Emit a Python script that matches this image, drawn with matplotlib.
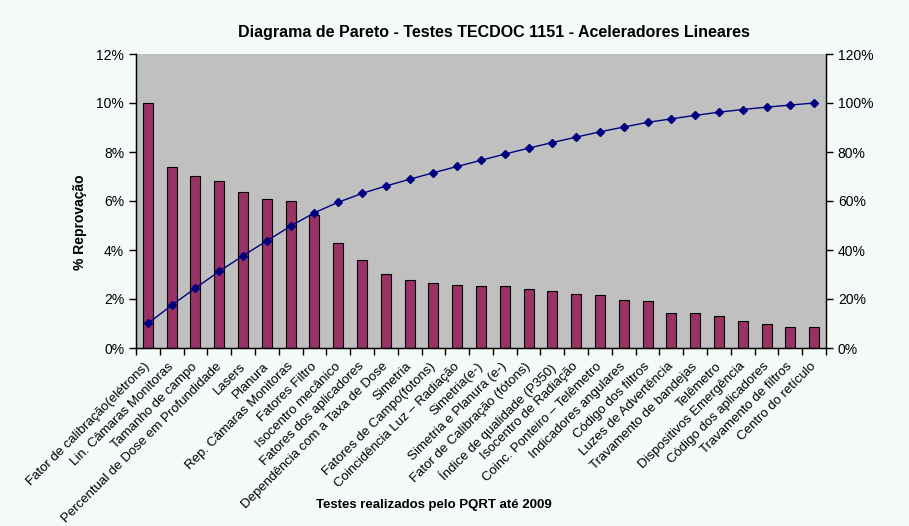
import matplotlib
matplotlib.use("Agg")
import matplotlib.pyplot as plt
import matplotlib.transforms as mtransforms
import numpy as np
from matplotlib.ticker import FuncFormatter, MultipleLocator

plt.rcParams['font.family'] = ['Liberation Sans', 'DejaVu Sans']

categories = [
    "Fator de calibração(elétrons)", "Lin. Câmaras Monitoras", "Tamanho de campo",
    "Percentual de Dose em Profundidade", "Lasers", "Planura", "Rep. Câmaras Monitoras",
    "Fatores Filtro", "Isocentro mecânico", "Fatores dos aplicadores",
    "Dependência com a Taxa de Dose", "Simetria", "Fatores de Campo(fotons)",
    "Coincidência Luz – Radiação", "Simetria(e-)", "Simetria e Planura (e-)",
    "Fator de Calibração (fótons)", "Índice de qualidade (P350)", "Isocentro de Radiação",
    "Coinc. Ponteiro – Telêmetro", "Indicadores angulares", "Código dos filtros",
    "Luzes de Advertência", "Travamento de bandejas", "Telêmetro",
    "Dispositivos Emergência", "Código dos aplicadores", "Travamento de filtros",
    "Centro do retículo",
]
reprovacao = [10.0, 7.38, 7.01, 6.80, 6.35, 6.07, 5.99, 5.43, 4.27, 3.58,
              3.01, 2.76, 2.64, 2.56, 2.52, 2.52, 2.40, 2.31, 2.19, 2.15,
              1.95, 1.91, 1.42, 1.42, 1.29, 1.09, 0.97, 0.84, 0.84]
acumulado = list(np.cumsum(reprovacao) / np.sum(reprovacao) * 100)

bg = '#F4FAF6'
fig = plt.figure(figsize=(9.09, 5.26), dpi=100, facecolor=bg)
ax = fig.add_axes([136/909, 1-348/526, 690/909, 294/526])
ax.set_facecolor('#C0C0C0')

x = np.arange(len(categories))
ax.bar(x, reprovacao, width=0.42, color='#993366', edgecolor='black', linewidth=0.8, zorder=2)
ax.set_xlim(-0.5, len(categories) - 0.5)
ax.set_ylim(0, 12)
ax.yaxis.set_major_locator(MultipleLocator(2))
ax.yaxis.set_major_formatter(FuncFormatter(lambda v, p: f"{v:.0f}%"))
ax.set_xticks(x)
ax.set_xticklabels(categories, rotation=45, ha='right', rotation_mode='anchor', fontsize=9.5)
ax.tick_params(axis='x', length=0, pad=9)
offset = mtransforms.ScaledTranslation(-4/100, 0, fig.dpi_scale_trans)
for lbl in ax.get_xticklabels():
    lbl.set_transform(lbl.get_transform() + offset)
ax.set_xticks(np.arange(len(categories) + 1) - 0.5, minor=True)
ax.tick_params(axis='x', which='minor', length=5, width=1, direction='out')
ax.tick_params(axis='y', length=5, width=1, direction='out', labelsize=10)
ax.spines['top'].set_visible(False)
for s in ['left', 'bottom', 'right']:
    ax.spines[s].set_linewidth(1)

ax2 = ax.twinx()
ax2.plot(x, acumulado, color='#000080', marker='D', markersize=4.5, linewidth=1, zorder=3)
ax2.set_ylim(0, 120)
ax2.yaxis.set_major_locator(MultipleLocator(20))
ax2.yaxis.set_major_formatter(FuncFormatter(lambda v, p: f"{v:.0f}%"))
ax2.tick_params(axis='y', length=5, width=1, direction='out', labelsize=10)
ax2.spines['top'].set_visible(False)

fig.text(494/909, 1 - 33/526, "Diagrama de Pareto - Testes TECDOC 1151 - Aceleradores Lineares",
         ha='center', va='center', fontsize=11.5, fontweight='bold')
fig.text(80/909, 1 - 222/526, "% Reprovação", rotation=90,
         ha='center', va='center', fontsize=10, fontweight='bold')
fig.text(434/909, 1 - 505/526, "Testes realizados pelo PQRT até 2009",
         ha='center', va='center', fontsize=9.5, fontweight='bold')

fig.savefig("out.png", dpi=100, facecolor=bg)
